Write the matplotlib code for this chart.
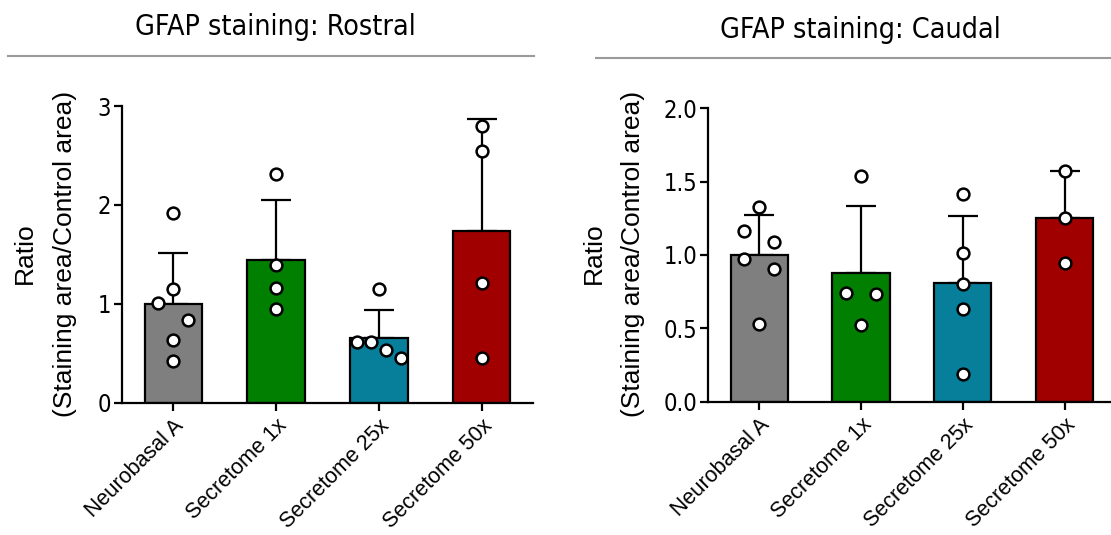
import matplotlib
matplotlib.use("Agg")
import matplotlib.pyplot as plt
from matplotlib.lines import Line2D
from matplotlib import font_manager

# ---- data -------------------------------------------------------------
groups = ["Neurobasal A", "Secretome 1x", "Secretome 25x", "Secretome 50x"]

rostral_mean = [1.00, 1.44, 0.65, 1.74]
rostral_sd = [0.51, 0.61, 0.29, 1.125]
rostral_points = [
    [1.01, 1.15, 1.915, 0.836, 0.634, 0.42],
    [2.31, 1.39, 1.157, 0.947],
    [1.147, 0.611, 0.611, 0.533, 0.449],
    [2.80, 2.545, 1.213, 0.449],
]

caudal_mean = [1.00, 0.88, 0.81, 1.255]
caudal_sd = [0.27, 0.454, 0.454, 0.316]
caudal_points = [
    [1.325, 1.166, 1.089, 0.971, 0.903, 0.528],
    [1.54, 0.739, 0.734, 0.521],
    [1.416, 1.011, 0.802, 0.632, 0.191],
    [1.571, 1.254, 0.948],
]

rostral_yticks = [0, 1, 2, 3]
caudal_yticks = [0.0, 0.5, 1.0, 1.5, 2.0]

# ---- styling ----------------------------------------------------------
bar_colors = ["#7f7f7f", "#007f00", "#087f9a", "#a00000"]
regular = ["Liberation Sans", "DejaVu Sans"]

# pick the narrowest installed face for headings and numbers
_cond = [f for f in font_manager.fontManager.ttflist
         if "condensed" in f.name.lower() or
         (f.stretch in ("condensed", "semi-condensed", 500 - 125, 500 - 250, 375, 250)
          or (isinstance(f.stretch, int) and f.stretch < 500))]
_cond = [f for f in _cond if f.weight in (400, "normal", "regular") and f.style == "normal"]
if _cond:
    _cond.sort(key=lambda f: (0 if "Sans" in f.name else 1,
                              f.stretch if isinstance(f.stretch, int) else 500))
    narrow_prop = dict(fname=_cond[0].fname)
else:
    narrow_prop = dict(family=["Roboto", "DejaVu Sans"])

# horizontal scatter offsets for overlapping dots (category units)
rostral_jitter = [
    [-0.145, 0, 0, 0.145, 0, 0],
    [0, 0, 0, 0],
    [0, -0.217, -0.078, 0.068, 0.214],
    [0, 0, 0, 0],
]
caudal_jitter = [
    [0, -0.145, 0.145, -0.145, 0.145, 0],
    [0, -0.145, 0.145, 0],
    [0, 0, 0, 0, 0],
    [0, 0, 0],
]

W, H = 1111, 535
fig = plt.figure(figsize=(W / 100, H / 100), dpi=100)


def narrow_font(size):
    return font_manager.FontProperties(size=size, **narrow_prop)


def px_axes(x0, x1, ytop, ybot):
    return fig.add_axes([x0 / W, 1 - ybot / H, (x1 - x0) / W, (ybot - ytop) / H])


def draw_panel(ax, means, sds, points, jitter, yticks, ylim, ticklabels):
    xs = list(range(len(groups)))
    ax.errorbar(xs, means, yerr=[[0] * len(sds), sds], fmt="none",
                ecolor="black", elinewidth=1.6, capsize=11, capthick=1.6,
                zorder=1)
    ax.bar(xs, means, width=0.56, color=bar_colors, edgecolor="black",
           linewidth=1.6, zorder=2)
    for i, (vals, offs) in enumerate(zip(points, jitter)):
        ax.plot([i + o for o in offs], vals, "o", ms=8.5, mfc="white",
                mec="black", mew=1.8, zorder=3, clip_on=False)
    ax.set_xlim(-0.5, 3.5)
    ax.set_ylim(*ylim)
    ax.set_yticks(yticks)
    ax.set_yticklabels(ticklabels, fontproperties=narrow_font(17))
    ax.set_xticks(xs)
    ax.set_xticklabels(groups, rotation=45, ha="right",
                       rotation_mode="anchor", family=regular, fontsize=15.5)
    for side in ("top", "right"):
        ax.spines[side].set_visible(False)
    for side in ("left", "bottom"):
        ax.spines[side].set_linewidth(1.6)
    ax.tick_params(axis="both", length=6, width=1.6, pad=2, colors="black")
    ax.tick_params(axis="x", pad=3)


ax1 = px_axes(122, 533, 106, 402.7)
draw_panel(ax1, rostral_mean, rostral_sd, rostral_points, rostral_jitter,
           rostral_yticks, (0, 3), [str(t) for t in rostral_yticks])

ax2 = px_axes(708.3, 1115.5, 108.3, 401.7)
draw_panel(ax2, caudal_mean, caudal_sd, caudal_points, caudal_jitter,
           caudal_yticks, (0, 2), [f"{t:.1f}" for t in caudal_yticks])

# y-axis titles: two stacked lines, rotated
for x_top, x_bottom in ((25, 65), (594, 633)):
    fig.text(x_top / W, 1 - 253.5 / H, "Ratio", rotation=90, ha="center",
             va="center", family=regular, fontsize=19)
    fig.text(x_bottom / W, 1 - 253.5 / H, "(Staining area/Control area)",
             rotation=90, ha="center", va="center", family=regular,
             fontsize=19)

# panel headings with rules underneath
fig.text(275 / W, 1 - 27 / H, "GFAP staining: Rostral", ha="center",
         va="center", fontproperties=narrow_font(20.5))
fig.text(860 / W, 1 - 30 / H, "GFAP staining: Caudal", ha="center",
         va="center", fontproperties=narrow_font(20.5))
fig.add_artist(Line2D([8 / W, 534 / W], [1 - 56 / H, 1 - 56 / H],
                      color="#9a9a9a", lw=1.5))
fig.add_artist(Line2D([596 / W, 1.0], [1 - 58.3 / H, 1 - 58.3 / H],
                      color="#9a9a9a", lw=1.5))

fig.savefig("out.png", dpi=100, facecolor="white")
